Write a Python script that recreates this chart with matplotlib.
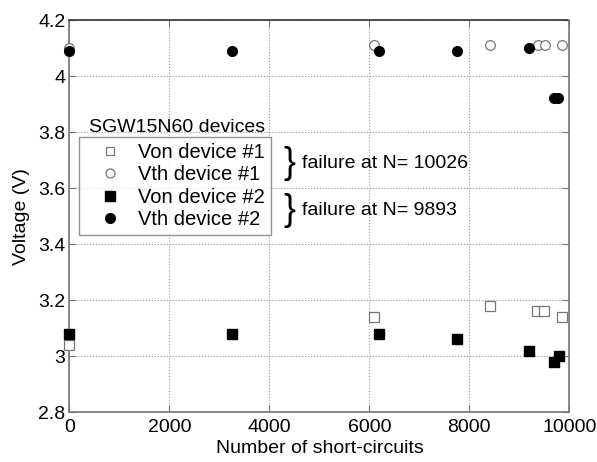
import matplotlib.pyplot as plt
from matplotlib.lines import Line2D

plt.rcParams['font.family'] = ['Liberation Sans', 'DejaVu Sans']

# cycles and voltages per device
n_von1 = [0, 6090, 8410, 9350, 9490, 9850]
von1 = [3.04, 3.14, 3.18, 3.16, 3.16, 3.14]
n_vth1 = [0, 6090, 8410, 9370, 9510, 9850]
vth1 = [4.10, 4.11, 4.11, 4.11, 4.11, 4.11]
n_von2 = [0, 3245, 6200, 7760, 9200, 9690, 9790]
von2 = [3.08, 3.08, 3.08, 3.06, 3.02, 2.98, 3.00]
n_vth2 = [0, 3245, 6200, 7760, 9200, 9690, 9780]
vth2 = [4.09, 4.09, 4.09, 4.09, 4.10, 3.92, 3.92]

labels = ['Von device #1', 'Vth device #1', 'Von device #2', 'Vth device #2']
failures = ['failure at N= 10026', 'failure at N= 9893']

fs = 14
fig = plt.figure(figsize=(5.97, 4.62), dpi=100)
ax = fig.add_axes([0.1164, 0.1076, 0.8372, 0.8491])

gray = '#777777'
ax.plot(n_von1, von1, 's', ms=6.5, mfc='white', mec=gray, mew=0.9, clip_on=False, zorder=3)
ax.plot(n_vth1, vth1, 'o', ms=7, mfc='white', mec=gray, mew=0.9, clip_on=False, zorder=3)
ax.plot(n_von2, von2, 's', ms=7, color='black', clip_on=False, zorder=4)
ax.plot(n_vth2, vth2, 'o', ms=7, color='black', clip_on=False, zorder=4)

ax.set_xlim(0, 10000)
ax.set_ylim(2.8, 4.2)
ax.set_xticks([0, 2000, 4000, 6000, 8000, 10000])
ax.set_yticks([2.8, 3.0, 3.2, 3.4, 3.6, 3.8, 4.0, 4.2])
ax.set_yticklabels(['2.8', '3', '3.2', '3.4', '3.6', '3.8', '4', '4.2'])
ax.grid(True, linestyle=':', color='#999999', linewidth=0.8)
ax.tick_params(labelsize=fs, direction='in', length=5, color=gray, right=True, top=True)
ax.tick_params(axis='x', pad=5)
ax.tick_params(axis='y', pad=3)
for s in ax.spines.values():
    s.set_color(gray)
    s.set_linewidth(1.2)
ax.spines['top'].set_color('#333333')
ax.spines['top'].set_linestyle((0, (1, 1)))
ax.set_xlabel('Number of short-circuits', fontsize=fs, labelpad=3)
ax.set_ylabel('Voltage (V)', fontsize=fs, labelpad=6)

handles = [
    Line2D([], [], ls='', marker='s', ms=6, mfc='white', mec=gray, mew=0.9),
    Line2D([], [], ls='', marker='o', ms=6.5, mfc='white', mec=gray, mew=0.9),
    Line2D([], [], ls='', marker='s', ms=6.5, color='black'),
    Line2D([], [], ls='', marker='o', ms=7, color='black'),
]
leg = ax.legend(handles, labels, loc='upper left', bbox_to_anchor=(0.019, 0.702),
                fontsize=14.5, frameon=True, fancybox=False, borderaxespad=0,
                handletextpad=0.15, labelspacing=0.17, borderpad=0.3, handlelength=2.5)
leg.get_frame().set_edgecolor(gray)
leg.get_frame().set_linewidth(1.0)

ax.text(0.04, 0.714, 'SGW15N60 devices', transform=ax.transAxes, fontsize=fs, va='baseline')

# braces grouping each device with its failure count
for yb, txt in zip([0.634, 0.514], failures):
    ax.text(0.428, yb, '}', transform=ax.transAxes, fontsize=26, va='center', ha='left')
    ax.text(0.465, yb, txt, transform=ax.transAxes, fontsize=fs, va='center', ha='left')

fig.savefig('out.png', dpi=100)
